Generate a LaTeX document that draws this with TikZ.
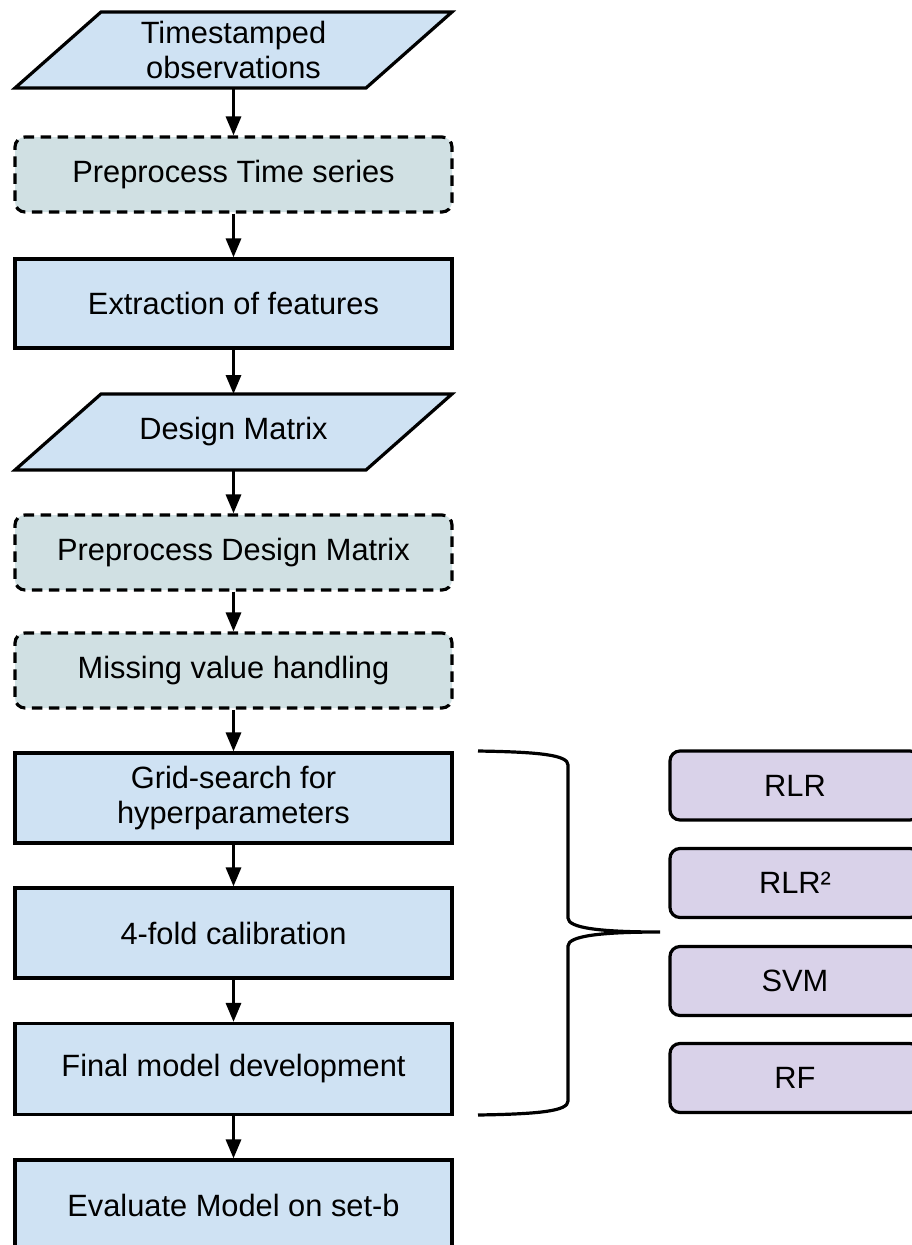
\documentclass[tikz,border=0pt]{standalone}
\usepackage{fontspec}
\setmainfont{Liberation Sans}
\usetikzlibrary{arrows.meta}
\definecolor{stepblue}{HTML}{CFE2F3}
\definecolor{optgray}{HTML}{D0E0E3}
\definecolor{modelpurple}{HTML}{D9D2E9}
\tikzset{
  base/.style={font=\fontsize{30.8}{35}\selectfont, align=center, line width=3.2pt, inner sep=0pt},
  stepbox/.style={base, draw, fill=stepblue, minimum width=437pt, minimum height=90pt},
  optbox/.style={base, draw, fill=optgray, dash pattern=on 10.5pt off 6.5pt, rounded corners=10pt, minimum width=437pt, minimum height=75pt},
  databox/.style={base, outer sep=0pt, minimum width=351pt, minimum height=76pt},
  paraline/.style={line width=3.2pt, draw, fill=stepblue, line join=miter},
  modelbox/.style={base, draw, fill=modelpurple, rounded corners=10pt, minimum width=250pt, minimum height=69pt},
  arr/.style={line width=3.2pt, -{Triangle[length=19pt,width=15pt]}},
  bracket/.style={line width=3.2pt}
}
\newcommand{\paraoutline}[1]{%
  \path[paraline] ([xshift=-43pt]#1.south west) -- ([xshift=43pt]#1.north west)
    -- ([xshift=43pt]#1.north east) -- ([xshift=-43pt]#1.south east) -- cycle;}
\begin{document}
\begin{tikzpicture}[x=1pt,y=-1pt]
\useasboundingbox (0,0) rectangle (912,1245);
\clip (0,0) rectangle (912,1245);

% data nodes (parallelograms drawn behind their text)
\node[databox] (obs) at (233.5,50) {\phantom{X}};
\paraoutline{obs}
\node[base] at (obs) {Timestamped\\observations};

\node[optbox] (pts) at (233.5,174.5) {Preprocess Time series};
\node[stepbox, minimum height=89pt] (feat) at (233.5,303.5) {Extraction of features};

\node[databox] (dm) at (233.5,432) {\phantom{X}};
\paraoutline{dm}
\node[base] at (dm) {Design Matrix};

\node[optbox] (pdm) at (233.5,552.5) {Preprocess Design Matrix};
\node[optbox] (mv) at (233.5,670.5) {Missing value handling};
\node[stepbox] (grid) at (233.5,798) {Grid-search for\\hyperparameters};
\node[stepbox] (fold) at (233.5,933) {4-fold calibration};
\node[stepbox, minimum height=91pt] (final) at (233.5,1069) {Final model development};
\node[stepbox] (eval) at (233.5,1205) {Evaluate Model on set-b};

% model family
\node[modelbox] (rlr) at (795,785.5) {RLR};
\node[modelbox] (rlr2) at (795,883) {RLR²};
\node[modelbox] (svm) at (795,981) {SVM};
\node[modelbox] (rf) at (795,1078) {RF};

% flow
\draw[arr] (obs.south) -- (pts.north);
\draw[arr] (pts) -- (feat);
\draw[arr] (feat) -- (dm.north);
\draw[arr] (dm.south) -- (pdm);
\draw[arr] (pdm) -- (mv);
\draw[arr] (mv) -- (grid);
\draw[arr] (grid) -- (fold);
\draw[arr] (fold) -- (final);
\draw[arr] (final) -- (eval);

% brace grouping the training steps
\coordinate (btop) at (478,751);
\coordinate (bbot) at (478,1115);
\coordinate (btip) at (660,932);
\draw[bracket] (btop) .. controls (540,752) and (568,755) .. (568,765)
  -- (568,918) .. controls (568,928) and (600,932) .. (btip)
  .. controls (600,932) and (568,936) .. (568,946)
  -- (568,1101) .. controls (568,1111) and (540,1114) .. (bbot);
\end{tikzpicture}
\end{document}
